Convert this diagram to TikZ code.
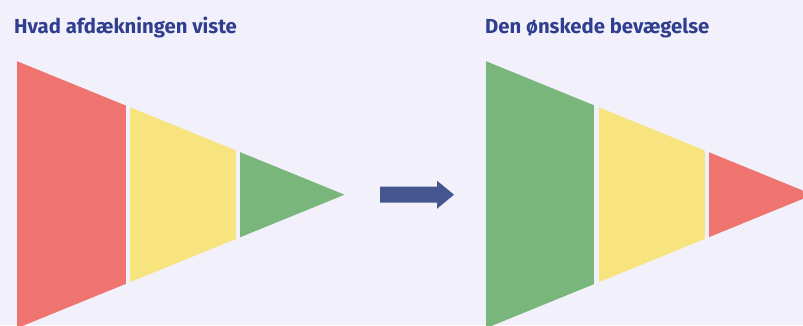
\documentclass[tikz,border=0pt]{standalone}
\usepackage{fontspec}
\setmainfont{Fira Sans}
\usetikzlibrary{positioning}

\definecolor{bgcol}{HTML}{F2F0FA}
\definecolor{titleblue}{HTML}{2F3E8E}
\definecolor{arrowblue}{HTML}{44558F}
\definecolor{segred}{HTML}{EF7470}
\definecolor{segyellow}{HTML}{F7E47E}
\definecolor{seggreen}{HTML}{78B67C}

\begin{document}
\begin{tikzpicture}[
		x=1pt, y=-1pt,
		title/.style={anchor=base west, inner sep=0pt, text=titleblue, font=\fontsize{20.3}{24}\selectfont\bfseries},
	]
		\useasboundingbox (0,0) rectangle (803,325);
		\fill[bgcol] (0,0) rectangle (803,325);
		\clip (0,0) rectangle (803,325);

		\node (before) at (14,33.3) [title] {Hvad afdækningen viste};
		\node (after) at (485,33.3) [title] {Den ønskede bevægelse};

		% what the survey showed
		\begin{scope}
			\clip (17,61.2) -- (344.5,194.7) -- (17,328.2) -- cycle;
			\fill[segred] (17,0) rectangle (125.5,340);
			\fill[segyellow] (129.5,0) rectangle (236,340);
			\fill[seggreen] (240,0) rectangle (345,340);
		\end{scope}

		% the wanted movement
		\begin{scope}
			\clip (486,61.2) -- (813,194.7) -- (486,328.2) -- cycle;
			\fill[seggreen] (486,0) rectangle (594.3,340);
			\fill[segyellow] (599,0) rectangle (704.7,340);
			\fill[segred] (709,0) rectangle (814,340);
		\end{scope}

		\fill[arrowblue] (380,186.7) -- (437,186.7) -- (437,180.7) -- (454,194.7)
			-- (437,208.7) -- (437,202.7) -- (380,202.7) -- cycle;
	\end{tikzpicture}
\end{document}
